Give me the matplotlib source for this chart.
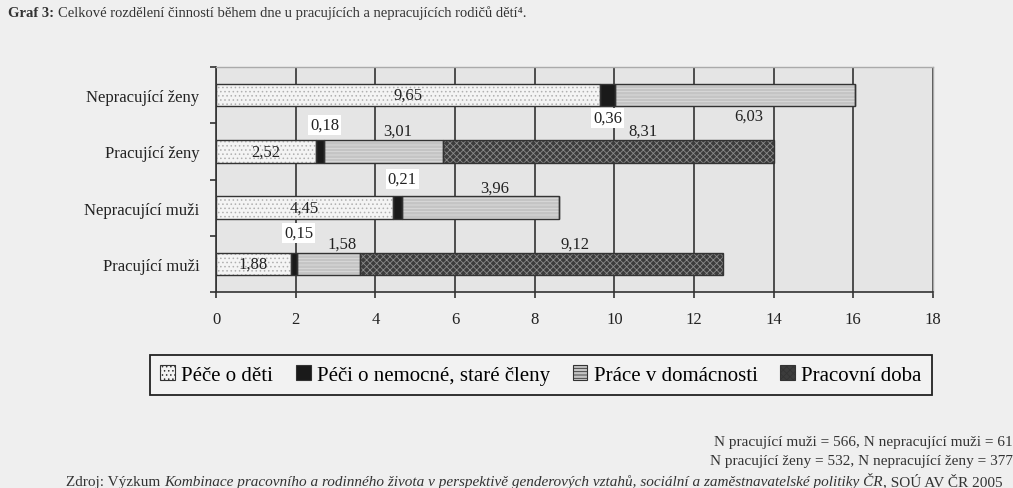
import numpy as np
import matplotlib.pyplot as plt
from matplotlib.font_manager import FontProperties

plt.rcParams['hatch.linewidth'] = 0.6
plt.rcParams['font.family'] = ['Liberation Serif', 'DejaVu Serif']

groups = ["Pracující muži", "Nepracující muži", "Pracující ženy", "Nepracující ženy"]
series = ["Péče o děti", "Péči o nemocné, staré členy", "Práce v domácnosti", "Pracovní doba"]
care_children = [1.88, 4.45, 2.52, 9.65]
care_sick = [0.15, 0.21, 0.18, 0.36]
housework = [1.58, 3.96, 3.01, 6.03]
work_time = [9.12, 0.0, 8.31, 0.0]

values = [care_children, care_sick, housework, work_time]
faces = ["#f4f4f4", "#1a1a1a", "#c4c4c4", "#3c3c3c"]
hatches = ["....", None, "-----", "xxxxx"]
hatch_cols = ["#b0b0b0", "#1a1a1a", "#dcdcdc", "#8a8a8a"]

fig = plt.figure(figsize=(10.13, 4.89), dpi=100)
fig.patch.set_facecolor("#efefef")
ax = fig.add_axes([216/1013, 1-293/489, (933-216)/1013, (293-68)/489])
ax.set_facecolor("#e5e5e5")

y = np.arange(len(groups))
left = np.zeros(len(groups))
bars = []
for i, vals in enumerate(values):
    ax.barh(y, vals, left=left, height=0.4, color=faces[i], hatch=hatches[i],
            edgecolor=hatch_cols[i], linewidth=0, label=series[i], zorder=3)
    # outlines drawn separately so hatch colour stays independent
    ax.barh(y, vals, left=left, height=0.4, fill=False, edgecolor="#333333",
            linewidth=1.0, zorder=4)
    bars.append(left.copy())
    left = left + np.array(vals)

txt = dict(fontsize=12, color="#222222", zorder=6)
# extra x shift (data units) of outside labels per series
shift = [0, 0.0, 0.35, 0.85]
for i, vals in enumerate(values):
    for j, v in enumerate(vals):
        if v == 0:
            continue
        xc = bars[i][j] + v/2
        s = f"{v:.2f}".replace(".", ",")
        top = j == len(groups) - 1
        if i == 0:
            ax.text(xc, y[j], s, ha="center", va="center", **txt)
        elif i == 1:
            dy = -0.4 if top else 0.47 + 0.04*(2 - j)
            ax.text(xc + (0 if top else 0.12), y[j] + dy, s, ha="center", va="center",
                    bbox=dict(facecolor="white", edgecolor="none", pad=1.5), **txt)
        else:
            dy = -0.37 if top else 0.36
            ax.text(xc + shift[i], y[j] + dy, s, ha="center", va="center", **txt)

ax.set_xlim(0, 18)
ax.set_ylim(-0.5, 3.5)
ax.set_xticks(np.arange(0, 19, 2))
ax.set_yticks(y)
ax.set_yticklabels(groups, fontsize=12, color="#222222")
ax.set_yticks(np.arange(-0.5, 3.6, 1), minor=True)
ax.tick_params(axis="y", which="major", length=0, pad=12)
ax.tick_params(axis="y", which="minor", length=4, width=1.2, color="#333333")
ax.tick_params(axis="x", length=4, width=1.2, color="#333333", pad=10,
               labelsize=12, labelcolor="#222222")
ax.grid(axis="x", color="#333333", linewidth=1.2, zorder=1)
ax.set_axisbelow(True)
for side in ["left", "bottom"]:
    ax.spines[side].set_color("#333333")
    ax.spines[side].set_linewidth(1.2)
for side in ["top", "right"]:
    ax.spines[side].set_color("#aaaaaa")
    ax.spines[side].set_linewidth(1.0)

handles, labels = ax.get_legend_handles_labels()
leg = fig.legend(handles, labels, loc="center", bbox_to_anchor=(541/1013, 1-376/489),
                 ncol=4, frameon=True, fancybox=False, edgecolor="#222222",
                 facecolor="#f2f2f2", framealpha=1,
                 prop=FontProperties(family="Liberation Serif", size=15),
                 handlelength=0.7, handleheight=0.7, handletextpad=0.3,
                 columnspacing=1.1, borderpad=0.5)
leg.get_frame().set_linewidth(1.3)
for h in leg.legend_handles:
    h.set_linewidth(0.8)
    h.set_edgecolor("#333333")

title = fig.text(8/1013, 1-20/489, "Graf 3: ", fontsize=10.5, fontweight="bold",
                 color="#333333", va="bottom")
ax.annotate("Celkové rozdělení činností během dne u pracujících a nepracujících rodičů dětí⁴.",
            xy=(1, 0), xycoords=title, va="bottom", fontsize=10.5,
            color="#333333", annotation_clip=False)

foot = dict(fontsize=11, color="#333333", ha="right")
fig.text(1.0, 1-443/489, "N pracující muži = 566, N nepracující muži = 61", va="center", **foot)
fig.text(1.0, 1-462/489, "N pracující ženy = 532, N nepracující ženy = 377", va="center", **foot)
src = fig.text(66/1013, 1-489/489, "Zdroj: Výzkum ", fontsize=11,
               color="#333333", va="bottom")
it = ax.annotate("Kombinace pracovního a rodinného života v perspektivě genderových vztahů, "
                 "sociální a zaměstnavatelské politiky ČR", xy=(1, 0), xycoords=src,
                 va="bottom", fontsize=11, style="italic",
                 color="#333333", annotation_clip=False)
ax.annotate(", SOÚ AV ČR 2005", xy=(1, 0), xycoords=it, va="bottom", fontsize=11,
            color="#333333", annotation_clip=False)

fig.savefig("out.png", dpi=100, facecolor=fig.get_facecolor())
